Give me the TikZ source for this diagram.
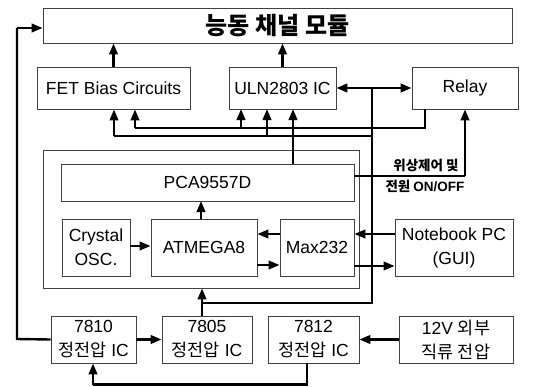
\documentclass[tikz,border=0pt]{standalone}
\usepackage{fontspec}
\setmainfont{Liberation Sans}
\newfontfamily\kr{Noto Sans CJK KR}
\usetikzlibrary{arrows.meta}
\tikzset{
  box/.style={draw=black!75, line width=0.8pt, fill=white, inner sep=0pt, align=center, font=\fontsize{17.5}{24}\selectfont},
  wire/.style={line width=2.4pt, black},
  arr/.style={wire, -{Triangle[length=11pt,width=8.5pt]}},
  darr/.style={wire, {Triangle[length=11pt,width=8.5pt]}-{Triangle[length=11pt,width=8.5pt]}},
  lbl/.style={inner sep=0pt, font=\kr\bfseries\fontsize{13.5}{15}\selectfont}
}
\begin{document}
\begin{tikzpicture}[x=1pt,y=-1pt]
\useasboundingbox (0,0) rectangle (536,386);
% boxes
\node[box, minimum width=469pt, minimum height=35pt] (top) at (277.5,25.5) {\kr\bfseries\fontsize{24}{26}\selectfont 능동 채널 모듈};
\node[box, minimum width=153pt, minimum height=42pt] (fet) at (113.5,88) {FET Bias Circuits};
\node[box, minimum width=107pt, minimum height=42pt] (uln) at (282.5,88) {ULN2803 IC};
\node[box, minimum width=106pt, minimum height=42pt] (relay) at (465,88) {Relay};
\node[box, minimum width=316pt, minimum height=138pt] (big) at (201,219) {};
\node[box, minimum width=293pt, minimum height=37pt] (pca) at (207.5,182.5) {PCA9557D};
\node[box, minimum width=68pt, minimum height=57pt] (xtal) at (96,247.5) {Crystal\\OSC.};
\node[box, minimum width=106pt, minimum height=57pt] (atm) at (204,247.5) {ATMEGA8};
\node[box, minimum width=74pt, minimum height=57pt] (max) at (317,247.5) {Max232};
\node[box, minimum width=118pt, minimum height=57pt] (nb) at (454,247.5) {Notebook PC\\(GUI)};
\node[box, minimum width=85pt, minimum height=47pt] (r7810) at (93.5,339.5) {7810\\{\kr 정전압} IC};
\node[box, minimum width=90pt, minimum height=47pt] (r7805) at (207,339.5) {7805\\{\kr 정전압} IC};
\node[box, minimum width=91pt, minimum height=47pt] (r7812) at (313.5,339.5) {7812\\{\kr 정전압} IC};
\node[box, minimum width=114pt, minimum height=47pt] (v12) at (456,339.5) {12V {\kr 외부}\\{\kr 직류 전압}};
% label
\node[lbl] (l1) at (426,165) {위상제어 및};
\node[lbl] (l2) at (425,186) {전원 \normalfont\bfseries\fontsize{13.5}{15}\selectfont ON/OFF};
% coordinates
\coordinate (pa) at (372,88);
\coordinate (pb) at (372,303);
\coordinate (pc) at (202,303);
\coordinate (h1a) at (372,136);
\coordinate (h1b) at (114,136);
\coordinate (h2a) at (425,128);
\coordinate (h2b) at (135,128);
\coordinate (s1) at (465,176);
\coordinate (g1) at (307,384.5);
\coordinate (g2) at (93,384.5);
\coordinate (f1) at (17,339);
\coordinate (f2) at (17,28);
% top arrows
\draw[arr] (fet.north) -- (fet.north |- top.south);
\draw[arr] (uln.north) -- (uln.north |- top.south);
\draw[darr] (uln.east) -- (relay.west);
% power line
\draw[wire] (pa) -- (pb) -- (pc);
\draw[arr] (pc |- r7805.north) -- (pc |- big.south);
\draw[wire] (h1a) -- (h1b);
\draw[arr] (h1b) -- (h1b |- fet.south);
\draw[arr] (267,136) -- (267,109);
% relay feedback line
\draw[wire] (h2a |- relay.south) -- (h2a) -- (h2b);
\draw[arr] (h2b) -- (h2b |- fet.south);
\draw[arr] (241,128) -- (241,109);
% PCA outputs
\draw[arr] (293,164) -- (293,109);
\draw[wire] (pca.east |- s1) -- (s1);
\draw[arr] (s1) -- (s1 |- relay.south);
% inner arrows
\draw[arr] (201,219) -- (201,201);
\draw[arr] (xtal.east |- 0,246) -- (atm.west |- 0,246);
\draw[arr] (max.west |- 0,234) -- (atm.east |- 0,234);
\draw[arr] (atm.east |- 0,265) -- (max.west |- 0,265);
\draw[arr] (nb.west |- 0,234) -- (max.east |- 0,234);
\draw[arr] (max.east |- 0,266) -- (nb.west |- 0,266);
% power supplies
\draw[arr] (r7810.east) -- (r7805.west);
\draw[arr] (v12.west) -- (r7812.east);
\draw[wire] (g1 |- r7812.south) -- (g1) -- (g2);
\draw[arr] (g2) -- (g2 |- r7810.south);
\draw[wire] (r7810.west) -- (f1) -- (f2);
\draw[arr] (f2) -- (f2 -| top.west);
\end{tikzpicture}
\end{document}
